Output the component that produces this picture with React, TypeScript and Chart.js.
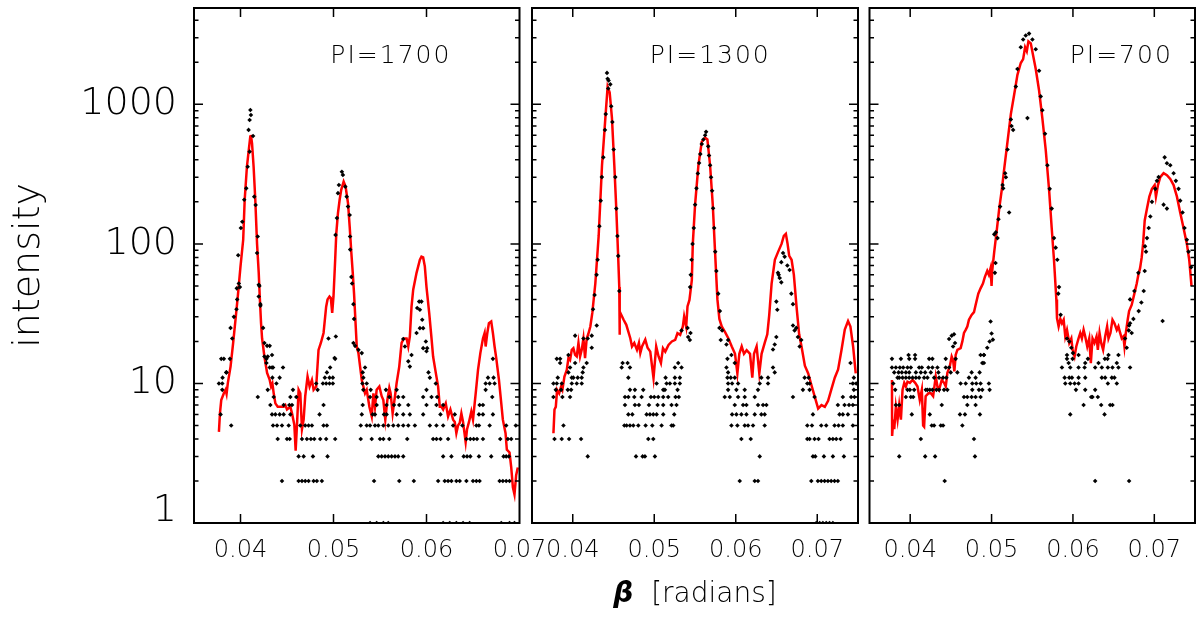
import React, { useEffect, useRef } from 'react';
import { Chart, registerables } from 'chart.js';

Chart.register(...registerables);

type Pt = [number, number];
type Row = [number, number[]];

const FONT = '"DejaVu Sans", "Noto Sans", sans-serif';
const LIGHT = 200;

// axes
const xMin = 0.035;
const yMin = 1;
const yMax = 4900;
const xTickValues = [0.04, 0.05, 0.06, 0.07];
const yTickValues = [1, 10, 100, 1000];
const panelLabels = ['PI=1700', 'PI=1300', 'PI=700'];

// ---- PI=1700 ----
const redLine1: Pt[] = [
  [0.03768, 4.5], [0.03779, 6.1], [0.03793, 7.6], [0.03821, 8.5], [0.03839, 9.0], [0.0385, 8.4], [0.03864, 10.1],
  [0.03893, 13.2], [0.03921, 19.5], [0.03946, 28.6], [0.03971, 42], [0.04, 69], [0.04029, 107], [0.04045, 207],
  [0.04069, 357], [0.04087, 458], [0.04105, 586], [0.04112, 603], [0.04124, 526], [0.04141, 357], [0.04159, 207],
  [0.04178, 100], [0.04196, 62], [0.04207, 42], [0.04221, 27], [0.04232, 21], [0.04257, 15.6], [0.04286, 11.9],
  [0.04314, 10.6], [0.04329, 9.5], [0.04343, 10], [0.04357, 8.5], [0.04375, 7.2], [0.044, 6.8], [0.04429, 6.8],
  [0.04464, 6.8], [0.04482, 7], [0.045, 6.5], [0.04536, 6.8], [0.04554, 6.1], [0.04579, 5.05], [0.04593, 3.3],
  [0.04607, 5], [0.04625, 9], [0.04643, 8.5], [0.04661, 4.7], [0.04679, 5.5], [0.04696, 8.1], [0.04721, 11.2],
  [0.04743, 9.5], [0.04768, 10.6], [0.04786, 9], [0.04814, 9.5], [0.04839, 17.4], [0.04864, 19.5], [0.04893, 23],
  [0.04921, 35.5], [0.04936, 40], [0.04957, 42], [0.04971, 41], [0.04986, 32], [0.05, 42], [0.05018, 77],
  [0.0503, 119], [0.05048, 166], [0.05066, 207], [0.05083, 244], [0.05109, 279], [0.0513, 257], [0.05156, 196],
  [0.05174, 133], [0.05192, 86], [0.05207, 62], [0.05221, 44], [0.05239, 25.6], [0.0525, 18.4], [0.05268, 16.5],
  [0.05286, 13.2], [0.05304, 10.6], [0.05321, 9.5], [0.05339, 8.5], [0.05357, 9], [0.05386, 6.8], [0.05411, 5.8],
  [0.05429, 8.5], [0.05446, 6.8], [0.05464, 9], [0.05493, 9.5], [0.05518, 8.1], [0.05536, 7.6], [0.05557, 5.5],
  [0.05579, 7.6], [0.056, 9.3], [0.05614, 8.5], [0.05636, 6.1], [0.05661, 8.1], [0.05679, 10.1], [0.05707, 13.2],
  [0.05732, 19.5], [0.05757, 21], [0.05786, 21], [0.05804, 18.4], [0.05821, 21.7], [0.05839, 35.5], [0.05857, 47],
  [0.05893, 62], [0.05929, 77], [0.05946, 81], [0.05964, 80], [0.05982, 69], [0.06, 49], [0.06029, 32],
  [0.06054, 21], [0.06071, 15.6], [0.061, 11.9], [0.06125, 9.5], [0.06143, 6.8], [0.06161, 6.8], [0.06179, 6.5],
  [0.06207, 7.2], [0.06232, 5.8], [0.06257, 6.5], [0.06286, 5.5], [0.06304, 5.3], [0.06321, 4.4], [0.06339, 5],
  [0.06357, 5.2], [0.06375, 6.1], [0.06393, 5.3], [0.06421, 3.8], [0.06436, 4.7], [0.06457, 5.3], [0.06482, 6.3],
  [0.065, 5.5], [0.06529, 8.5], [0.06554, 12.5], [0.06579, 16.5], [0.06607, 21], [0.06625, 23], [0.06636, 18.4],
  [0.06654, 23], [0.06671, 27], [0.06696, 27.8], [0.06714, 23], [0.06732, 18.4], [0.0675, 15.2], [0.06779, 10.6],
  [0.06804, 7.2], [0.06821, 5.5], [0.0685, 4.4], [0.06864, 3.35], [0.06893, 3.2], [0.06911, 2.5], [0.06929, 1.8],
  [0.06946, 1.6], [0.06964, 2.2], [0.06982, 2.5],
];

const peakDots1: Pt[] = [
  [0.04106, 910], [0.04112, 838], [0.04098, 772], [0.04087, 656], [0.04135, 593], [0.04098, 458], [0.04077, 357],
  [0.04062, 250], [0.04148, 218], [0.0404, 207], [0.04163, 190], [0.04019, 144], [0.04004, 130], [0.04185, 113],
  [0.04178, 86], [0.03975, 83], [0.03982, 52], [0.04203, 50], [0.0396, 48], [0.04214, 37], [0.03993, 49],
  [0.03964, 40], [0.03957, 34], [0.03929, 30], [0.03893, 25], [0.03911, 21], [0.0385, 12], [0.04196, 51],
  [0.04196, 42], [0.04214, 36], [0.04243, 25], [0.04257, 19.5], [0.04286, 18.6], [0.04314, 18.6], [0.04257, 15.6],
  [0.04293, 15.6], [0.04339, 16], [0.04279, 14], [0.04314, 13], [0.0435, 13],
  [0.0509, 329], [0.05101, 312], [0.05058, 264], [0.05127, 257], [0.05048, 231], [0.05142, 218], [0.05156, 185],
  [0.05037, 153], [0.05174, 161], [0.05022, 116], [0.05178, 113], [0.05192, 58], [0.052, 52], [0.05179, 91],
  [0.05214, 37], [0.05221, 29], [0.05214, 19.5], [0.05232, 18.6], [0.05268, 17.4], [0.05304, 16.5],
  [0.04946, 21], [0.05025, 21.7], [0.05011, 15.2],
  [0.05921, 38.6], [0.05946, 38.6], [0.059, 34.7], [0.05929, 33.7], [0.05954, 28.6], [0.05929, 24.9],
  [0.05964, 24.9], [0.05893, 23], [0.05993, 20], [0.05964, 17.9], [0.06007, 17.9], [0.06, 17], [0.05839, 16],
  [0.05804, 14.4], [0.05821, 13.2], [0.0575, 20.8], [0.05768, 18.4], [0.06021, 12],
];

// integer-count rows: [count, beta positions]
const countRows1: Row[] = [
  [1, [0.05393, 0.05464, 0.05536, 0.05589, 0.06179, 0.0625, 0.06321, 0.06393, 0.06464, 0.06804, 0.06893, 0.06946]],
  [2, [0.04446, 0.04625, 0.04661, 0.04696, 0.04732, 0.04786, 0.04821, 0.04875, 0.05436, 0.05707, 0.05864, 0.06125,
    0.06196, 0.06232, 0.06268, 0.06321, 0.06357, 0.06429, 0.065, 0.06536, 0.06571, 0.06786, 0.06821, 0.06857, 0.06893]],
  [3, [0.04625, 0.04679, 0.04779, 0.04936, 0.05482, 0.05518, 0.05554, 0.05589, 0.05625, 0.05661, 0.05696, 0.0575,
    0.06179, 0.06268, 0.064, 0.06436, 0.06471, 0.06564, 0.06696, 0.06829, 0.06857, 0.06886]],
  [4, [0.044, 0.045, 0.04529, 0.04661, 0.04714, 0.04757, 0.04793, 0.04857, 0.04921, 0.05018, 0.05293, 0.05411, 0.055,
    0.05536, 0.056, 0.05793, 0.06071, 0.06107, 0.0615, 0.06232, 0.06429, 0.06471, 0.06507, 0.06543, 0.06607, 0.06793,
    0.06875, 0.06911]],
  [5, [0.039, 0.0435, 0.04393, 0.04446, 0.04518, 0.04643, 0.04696, 0.04732, 0.04768, 0.04893, 0.04929, 0.05293,
    0.05357, 0.05393, 0.05446, 0.05482, 0.05536, 0.05589, 0.05643, 0.05696, 0.0575, 0.05804, 0.05875, 0.06036,
    0.06107, 0.06179, 0.06286, 0.06386, 0.06536, 0.06564, 0.06679, 0.06857, 0.0696]],
  [6, [0.03786, 0.04339, 0.04375, 0.04421, 0.04464, 0.04536, 0.0485, 0.05304, 0.05421, 0.05446, 0.05543, 0.05571,
    0.05679, 0.0575, 0.05821, 0.05964, 0.0615, 0.06304, 0.06564, 0.06607, 0.06714]],
  [7, [0.04321, 0.04464, 0.04525, 0.04554, 0.04893, 0.05314, 0.05464, 0.05571, 0.0565, 0.05707, 0.05804, 0.06,
    0.06107, 0.06179, 0.06571, 0.06607]],
  [8, [0.04186, 0.04357, 0.04536, 0.046, 0.05393, 0.05464, 0.056, 0.05696, 0.0575, 0.05964, 0.06054, 0.06114, 0.06707]],
  [9, [0.03804, 0.04293, 0.04564, 0.04829, 0.05321, 0.054, 0.05564, 0.05679, 0.06, 0.06636]],
  [10, [0.03768, 0.03804, 0.04386, 0.04814, 0.04886, 0.04921, 0.04957, 0.04993, 0.05311, 0.05357, 0.061, 0.06636,
    0.06679, 0.06732]],
  [11, [0.03807, 0.04343, 0.04421, 0.04907, 0.04957, 0.04993, 0.05321, 0.06036, 0.06661, 0.06721]],
  [12, [0.03846, 0.04929, 0.05314]],
  [13, [0.04339, 0.04457, 0.04964, 0.05339]],
  [15, [0.03793, 0.03821, 0.03886, 0.04279, 0.05018, 0.06714]],
];

// ---- PI=1300 ----
const redLine2: Pt[] = [
  [0.03763, 4.4], [0.03776, 6.5], [0.03792, 6.8], [0.03808, 9], [0.03833, 8.5], [0.03857, 9.5], [0.03873, 9],
  [0.03898, 11.2], [0.03927, 12.5], [0.03947, 15.2], [0.03967, 14.7], [0.03988, 17.4], [0.04008, 17.9], [0.04029, 16],
  [0.04049, 15.6], [0.0407, 19.5], [0.0409, 15.6], [0.0411, 17.4], [0.04131, 21], [0.04151, 15.2], [0.04171, 21],
  [0.0419, 22.5], [0.04216, 25.6], [0.0424, 32], [0.04277, 52], [0.04318, 114], [0.04359, 366], [0.044, 797],
  [0.04428, 1340], [0.04453, 1216], [0.04481, 797], [0.0451, 366], [0.04534, 179], [0.04555, 88], [0.04571, 49],
  [0.04575, 22.3], [0.04577, 32.8], [0.04624, 28.6], [0.04657, 26.3], [0.04706, 21.1], [0.04727, 18.4],
  [0.04755, 19.5], [0.04788, 17.4], [0.04812, 19.5], [0.04829, 16.5], [0.0485, 18.4], [0.0489, 20.6],
  [0.04918, 18], [0.04951, 16.9], [0.04991, 10.9], [0.05024, 18.4], [0.05053, 15.6], [0.05082, 14],
  [0.05107, 17.9], [0.05135, 16.9], [0.05175, 18.9], [0.05216, 20], [0.05257, 20.5], [0.05285, 22.9],
  [0.05318, 22.3], [0.05351, 25.6], [0.05367, 30.2], [0.05392, 25.6], [0.05408, 35.6], [0.05432, 39.7],
  [0.05461, 55], [0.05473, 100],
  [0.05501, 191], [0.05542, 366], [0.05583, 540], [0.05624, 576], [0.05652, 560], [0.05685, 366], [0.05718, 191],
  [0.05746, 88], [0.05775, 40], [0.05799, 29], [0.05828, 25.6], [0.05869, 23.3], [0.0591, 21], [0.05951, 18.4],
  [0.05991, 16.3], [0.0602, 11.8], [0.06044, 16.3], [0.06073, 18.4], [0.06101, 16.3], [0.06134, 17.3],
  [0.06175, 16.3], [0.06203, 11], [0.06224, 16.3], [0.06256, 18.4], [0.06289, 11.8], [0.06317, 16.3],
  [0.06358, 19.8], [0.06387, 22.5], [0.06411, 31], [0.0644, 52], [0.0648, 77], [0.06521, 88], [0.06562, 100],
  [0.0659, 114], [0.06615, 118], [0.06636, 100], [0.06656, 82], [0.06685, 77], [0.06713, 60], [0.06746, 35.4],
  [0.06778, 22.5], [0.06807, 18.4], [0.06848, 13.4], [0.06889, 11.8], [0.06929, 9.7], [0.0697, 8], [0.07011, 6.6],
  [0.07052, 7], [0.07093, 6.8], [0.07133, 7.5], [0.07174, 9.1], [0.07215, 11], [0.07256, 12.6], [0.07297, 17.3],
  [0.07338, 24.3], [0.07378, 28], [0.07407, 25.6], [0.0744, 18.4], [0.07472, 11.8],
];

const peakDots2: Pt[] = [
  [0.0442, 1680], [0.04428, 1525], [0.0444, 1480], [0.04435, 1298], [0.04461, 1390],
  [0.04405, 851], [0.04395, 656], [0.04375, 417], [0.04357, 301], [0.04343, 204], [0.04327, 134], [0.04305, 77],
  [0.04292, 60], [0.04268, 43], [0.04249, 34],
  [0.04472, 968], [0.04486, 747], [0.04502, 475], [0.04522, 301], [0.04534, 179], [0.04548, 114], [0.04558, 82],
  [0.04571, 46],
  [0.05636, 635], [0.05624, 600], [0.05603, 560], [0.05583, 520], [0.05565, 440], [0.0555, 380], [0.05535, 320],
  [0.05518, 250], [0.05501, 191], [0.05485, 130], [0.0547, 100], [0.05458, 77], [0.05448, 60], [0.0544, 49],
  [0.05662, 500], [0.05672, 430], [0.05685, 366], [0.05697, 300], [0.0571, 240], [0.05722, 180], [0.05735, 130],
  [0.05748, 88], [0.05762, 64], [0.05785, 44], [0.05805, 33],
  [0.06498, 38.6], [0.0651, 33.7], [0.06518, 62], [0.06539, 57], [0.06559, 53], [0.0658, 86], [0.066, 81],
  [0.06633, 70], [0.06661, 65], [0.06682, 44], [0.06702, 37], [0.06559, 74], [0.06527, 60],
  [0.04029, 22], [0.04131, 21], [0.04184, 21], [0.04233, 18], [0.04233, 22], [0.04294, 26], [0.05335, 24],
  [0.05408, 25], [0.05437, 20.5], [0.05445, 23], [0.05416, 21.5], [0.058, 25], [0.05833, 24], [0.05816, 20.5],
  [0.05886, 19], [0.05906, 20.5], [0.06478, 19], [0.06498, 21.5], [0.06457, 17.5], [0.06702, 26], [0.06722, 24],
  [0.06743, 25], [0.06763, 21.5], [0.06804, 20.5], [0.06784, 18.4],
];

const countRows2: Row[] = [
  [1, [0.06988, 0.0703, 0.07069, 0.0711, 0.07151, 0.07192]],
  [2, [0.06049, 0.06233, 0.06273, 0.06927, 0.07008, 0.07049, 0.0709, 0.07131, 0.07171, 0.07212, 0.07253]],
  [3, [0.04184, 0.04776, 0.04857, 0.04886, 0.05008, 0.06294, 0.06947, 0.06976, 0.07082, 0.07192, 0.07327]],
  [4, [0.03776, 0.03865, 0.03955, 0.04102, 0.04927, 0.04988, 0.06069, 0.06184, 0.06878, 0.06906, 0.06967, 0.07016,
    0.07151, 0.07192, 0.07233, 0.07286]],
  [5, [0.03886, 0.04633, 0.04661, 0.04702, 0.04743, 0.04804, 0.04894, 0.04976, 0.0509, 0.05212, 0.05233, 0.05947,
    0.0602, 0.0611, 0.06151, 0.06212, 0.06355, 0.06878, 0.06935, 0.07049, 0.0711, 0.07212, 0.07261, 0.07314, 0.07437]],
  [6, [0.04682, 0.04731, 0.04906, 0.04947, 0.04988, 0.05029, 0.0511, 0.05245, 0.05955, 0.06008, 0.06069, 0.06131,
    0.06233, 0.06314, 0.06355, 0.06947, 0.07273, 0.07314, 0.07376]],
  [7, [0.04641, 0.04763, 0.04812, 0.04935, 0.05041, 0.0511, 0.05212, 0.05273, 0.05988, 0.0609, 0.06131, 0.06273,
    0.06335, 0.06376, 0.07253, 0.07335, 0.0739, 0.07437]],
  [8, [0.03763, 0.03873, 0.03967, 0.04641, 0.04682, 0.04755, 0.04845, 0.04959, 0.05, 0.05049, 0.0511, 0.05171,
    0.05261, 0.05302, 0.05865, 0.05927, 0.06029, 0.0611, 0.06233, 0.06702, 0.06967, 0.07314, 0.07416, 0.07457]],
  [9, [0.03792, 0.03857, 0.03939, 0.0398, 0.04702, 0.04763, 0.04865, 0.0511, 0.05131, 0.05286, 0.05906, 0.06008,
    0.0611, 0.06273, 0.06824, 0.06906, 0.07449]],
  [10, [0.03763, 0.03804, 0.03865, 0.03988, 0.04049, 0.0411, 0.05029, 0.05151, 0.05192, 0.05253, 0.05314, 0.05906,
    0.05955, 0.06029, 0.06294, 0.06396, 0.06878, 0.06906, 0.07437, 0.07478]],
  [11, [0.03816, 0.03988, 0.04008, 0.04061, 0.0411, 0.04682, 0.05139, 0.05253, 0.05314, 0.05898, 0.05939, 0.05988,
    0.06314, 0.06396, 0.06845, 0.06894, 0.07449]],
  [12, [0.03947, 0.04122, 0.05906, 0.06478]],
  [13, [0.03967, 0.04131, 0.046, 0.04702, 0.05253, 0.05335, 0.05886, 0.06457]],
  [14, [0.03845, 0.04029, 0.04171, 0.04612, 0.04673, 0.05294, 0.05988, 0.07408]],
  [15, [0.03804, 0.03845, 0.05898]],
  [16, [0.03947, 0.05947]],
];

// ---- PI=700 ----
const redLine3: Pt[] = [
  [0.03776, 10.6], [0.03778, 4.2], [0.03792, 5.5], [0.03804, 4.7], [0.03824, 6.8], [0.03845, 5.5], [0.03865, 7],
  [0.03886, 5.5], [0.03906, 9], [0.03927, 10.1], [0.03947, 9.5], [0.03967, 10.3], [0.03996, 10.1], [0.04029, 10.6],
  [0.04061, 10.1], [0.0409, 9.5], [0.04118, 7.6], [0.04143, 9], [0.04159, 5], [0.04171, 4.9], [0.0419, 8.1],
  [0.04224, 8.5], [0.04253, 8.5], [0.04282, 8.1], [0.04314, 11.2], [0.04335, 9.5], [0.04355, 9], [0.04388, 10.6],
  [0.04416, 10.1], [0.04437, 9.5], [0.04457, 11.9], [0.04486, 13.2], [0.0451, 15.6], [0.04527, 14.7],
  [0.04543, 12.2], [0.04559, 16], [0.0458, 17.4], [0.0462, 17.9], [0.04641, 20], [0.04661, 23], [0.04682, 24.2],
  [0.04702, 25.6], [0.04722, 28.6], [0.04755, 31], [0.04784, 32.4], [0.04804, 36.5], [0.04837, 44], [0.04865, 48],
  [0.04894, 52], [0.04918, 58], [0.04947, 64], [0.04967, 60], [0.04988, 67], [0.05, 50], [0.05008, 64],
  [0.05033, 88], [0.05061, 121], [0.05094, 179], [0.05127, 248], [0.05155, 343], [0.05196, 540], [0.05237, 851],
  [0.05278, 1175], [0.05318, 1626], [0.05359, 1977], [0.05388, 2109], [0.05412, 2564], [0.05433, 2400],
  [0.05453, 2825], [0.05482, 2735], [0.0551, 2250], [0.05543, 1790], [0.05584, 1256], [0.05624, 797],
  [0.05665, 475], [0.05706, 248], [0.05739, 130], [0.05767, 77], [0.05796, 40], [0.05804, 29.4], [0.05824, 25.6],
  [0.05845, 29], [0.05865, 27], [0.05886, 28.6], [0.05906, 21.7], [0.05927, 24.2], [0.05955, 19.5], [0.0598, 21],
  [0.05996, 17.4], [0.0602, 15.6], [0.06041, 18.4], [0.06069, 21], [0.0609, 23], [0.0611, 21], [0.06131, 24.2],
  [0.06151, 21.7], [0.06176, 18.4], [0.062, 21], [0.0622, 14], [0.06241, 21], [0.06265, 19.5], [0.0629, 21.7],
  [0.06306, 17.4], [0.06327, 23], [0.06347, 19.5], [0.06371, 17.4], [0.06396, 21.7], [0.0642, 25.6], [0.06437, 21],
  [0.06461, 23], [0.06486, 28.6], [0.0651, 27], [0.06539, 24.2], [0.06559, 25.6], [0.0658, 23], [0.066, 21],
  [0.0662, 21.7], [0.06633, 18.4], [0.0665, 23], [0.06673, 28.6], [0.0669, 33], [0.06722, 36.5], [0.06755, 44],
  [0.06784, 52], [0.06804, 60], [0.06825, 67], [0.06845, 80], [0.06862, 100], [0.06882, 147], [0.0691, 179],
  [0.06939, 218], [0.06971, 248], [0.07004, 264], [0.0702, 218], [0.07045, 264], [0.07073, 301], [0.07114, 321],
  [0.07155, 311], [0.07196, 292], [0.07237, 264], [0.07278, 218], [0.07318, 168], [0.07359, 130], [0.074, 100],
  [0.07429, 77], [0.07457, 50],
];

const peakDots3: Pt[] = [
  [0.05033, 117], [0.05053, 121], [0.05073, 110], [0.05085, 150], [0.05105, 185], [0.05135, 264], [0.05143, 250],
  [0.05167, 321], [0.05196, 475], [0.05176, 300], [0.05216, 168], [0.05237, 780], [0.05245, 700], [0.05265, 656],
  [0.05298, 1340], [0.05318, 1790], [0.05359, 2564], [0.05388, 2916], [0.0542, 3112], [0.05461, 3213],
  [0.05441, 797], [0.05502, 2916], [0.05543, 2480], [0.05584, 1738], [0.05604, 1140], [0.05624, 907],
  [0.05657, 615], [0.05686, 366], [0.05714, 248], [0.05739, 179], [0.05767, 110], [0.05788, 94], [0.05808, 77],
  [0.05829, 49], [0.0582, 44], [0.05849, 31],
  [0.07127, 417], [0.07155, 378], [0.07196, 366], [0.07237, 321], [0.07265, 283], [0.07298, 248], [0.07318, 204],
  [0.07347, 168], [0.07371, 130], [0.074, 107], [0.0742, 88], [0.07453, 68], [0.07053, 301], [0.07033, 283],
  [0.07012, 248], [0.07114, 191], [0.07155, 179], [0.06971, 200], [0.06951, 157], [0.06931, 130], [0.0691, 110],
  [0.06898, 88], [0.06882, 64], [0.0687, 46], [0.06841, 38], [0.06808, 33], [0.07102, 28], [0.06686, 24],
  [0.04478, 20.8], [0.0451, 22], [0.04539, 22.5], [0.04527, 18.4], [0.04551, 19.5], [0.04988, 27.8], [0.05, 22.8],
  [0.05016, 20.6], [0.04976, 20], [0.04947, 18], [0.04906, 16], [0.05041, 62], [0.05049, 73],
  [0.05927, 21], [0.05955, 20], [0.0598, 18], [0.06, 16.5], [0.06641, 21], [0.06661, 18], [0.0669, 26],
  [0.06702, 27], [0.06722, 23], [0.06743, 29], [0.06702, 40], [0.06755, 46], [0.06804, 62], [0.06886, 96],
];

const countRows3: Row[] = [
  [2, [0.04424, 0.06273, 0.0669]],
  [3, [0.03865, 0.04184, 0.04306, 0.04796]],
  [4, [0.04131, 0.04784]],
  [5, [0.04265, 0.04294, 0.04376, 0.04404, 0.04641]],
  [6, [0.0402, 0.04241, 0.04612, 0.04673, 0.04857, 0.05967, 0.06388]],
  [7, [0.03824, 0.03865, 0.04388, 0.04702, 0.04804, 0.06131, 0.06347, 0.06457, 0.06486]],
  [8, [0.03947, 0.04008, 0.04037, 0.04661, 0.04702, 0.04755, 0.04804, 0.04865, 0.06224, 0.0624, 0.06306]],
  [9, [0.03816, 0.03967, 0.03996, 0.04049, 0.04192, 0.04212, 0.04241, 0.04273, 0.04322, 0.04355, 0.04416, 0.04457,
    0.04763, 0.04845, 0.04886, 0.04976, 0.06037, 0.06151, 0.06273]],
  [10, [0.03792, 0.0462, 0.04682, 0.04763, 0.04812, 0.04865, 0.04967, 0.05906, 0.05967, 0.0602, 0.06069, 0.06429,
    0.06539]],
  [11, [0.03845, 0.03865, 0.03906, 0.03947, 0.03988, 0.04029, 0.0407, 0.0411, 0.04171, 0.04212, 0.04294, 0.04355,
    0.04404, 0.04445, 0.04722, 0.04804, 0.05898, 0.05955, 0.05988, 0.06069, 0.06151, 0.06355, 0.06396, 0.06478, 0.0651]],
  [12, [0.03804, 0.03857, 0.03898, 0.03947, 0.03988, 0.0407, 0.04131, 0.04184, 0.04253, 0.04347, 0.04498, 0.0458,
    0.04755, 0.04853]],
  [13, [0.03776, 0.03824, 0.03873, 0.03914, 0.03967, 0.04008, 0.0411, 0.04143, 0.04224, 0.04273, 0.04335, 0.04437,
    0.04478, 0.05865, 0.05967, 0.06069, 0.06143, 0.06273, 0.06355, 0.06429, 0.06486, 0.06559, 0.06702]],
  [14, [0.04886, 0.04906, 0.05947, 0.06151, 0.06314, 0.06539]],
  [15, [0.03776, 0.03886, 0.03988, 0.0406, 0.04233, 0.04273, 0.04437, 0.04559, 0.05927, 0.05996, 0.06184, 0.06392,
    0.06425]],
  [16, [0.0398, 0.0406, 0.04865, 0.04906, 0.05927, 0.06069, 0.06437, 0.06559]],
];

type PanelCfg = {
  label: string;
  labelAt: number;   // beta where the PI label is centred
  xMax: number;
  line: Pt[];
  peaks: Pt[];
  rows: Row[];
  left: number;      // chart area, px
  right: number;
  yAxis: boolean;
  xTitle: boolean;
};

const panels: PanelCfg[] = [
  { label: panelLabels[0], labelAt: 0.05617, xMax: 0.07, line: redLine1, peaks: peakDots1, rows: countRows1,
    left: 194, right: 519.5, yAxis: true, xTitle: false },
  { label: panelLabels[1], labelAt: 0.05687, xMax: 0.075, line: redLine2, peaks: peakDots2, rows: countRows2,
    left: 532, right: 858, yAxis: false, xTitle: true },
  { label: panelLabels[2], labelAt: 0.06594, xMax: 0.075, line: redLine3, peaks: peakDots3, rows: countRows3,
    left: 869.5, right: 1195, yAxis: false, xTitle: false },
];

const AREA_TOP = 8;
const AREA_BOTTOM = 523;

// frame, inward ticks and the in-panel text
const decor = {
  id: 'decor',
  afterDatasetsDraw(chart: any, _args: unknown, opts: any) {
    const { ctx, chartArea: a } = chart;
    const x = chart.scales.x;
    const y = chart.scales.y;
    ctx.save();
    ctx.strokeStyle = '#000';
    ctx.lineWidth = 1.5;
    ctx.beginPath();
    xTickValues.forEach((v) => {
      const px = x.getPixelForValue(v);
      if (px < a.left + 2 || px > a.right - 2) return;
      ctx.moveTo(px, a.bottom);
      ctx.lineTo(px, a.bottom - 9);
      ctx.moveTo(px, a.top);
      ctx.lineTo(px, a.top + 9);
    });
    for (let d = 1; d <= 1000; d *= 10) {
      for (let m = 1; m <= 9; m++) {
        const v = m * d;
        if (v <= yMin || v >= yMax) continue;
        const py = y.getPixelForValue(v);
        const len = m === 1 ? 9 : 4.5;
        ctx.moveTo(a.left, py);
        ctx.lineTo(a.left + len, py);
        ctx.moveTo(a.right, py);
        ctx.lineTo(a.right - len, py);
      }
    }
    ctx.stroke();
    ctx.lineWidth = 2;
    ctx.strokeRect(a.left, a.top, a.right - a.left, a.bottom - a.top);

    ctx.fillStyle = '#000';
    ctx.textBaseline = 'alphabetic';
    ctx.textAlign = 'center';
    ctx.font = `${LIGHT} 25px ${FONT}`;
    ctx.letterSpacing = '2px';
    ctx.fillText(opts.text, x.getPixelForValue(opts.at), 63);
    ctx.letterSpacing = '0px';

    if (opts.xTitle) {
      const betaFont = `italic bold 28px ${FONT}`;
      const restFont = `${LIGHT} 28px ${FONT}`;
      const rest = '  [radians]';
      ctx.font = betaFont;
      const wb = ctx.measureText('β').width;
      ctx.font = restFont;
      const wr = ctx.measureText(rest).width;
      const start = (a.left + a.right) / 2 - (wb + wr) / 2;
      ctx.textAlign = 'left';
      ctx.font = betaFont;
      ctx.fillText('β', start, 602);
      ctx.font = restFont;
      ctx.fillText(rest, start + wb, 602);
    }
    ctx.restore();
  },
};

function Panel({ cfg }: { cfg: PanelCfg }) {
  const canvasRef = useRef<HTMLCanvasElement>(null);

  useEffect(() => {
    if (!canvasRef.current) return;
    const dots = [
      ...cfg.peaks,
      ...cfg.rows.flatMap(([count, betas]) => betas.map((b) => [b, count] as Pt)),
    ].map(([bx, by]) => ({ x: bx, y: by }));

    const chart = new Chart(canvasRef.current, {
      type: 'scatter',
      data: {
        datasets: [
          {
            type: 'scatter',
            data: dots,
            pointStyle: 'rectRot',
            pointRadius: 2.3,
            backgroundColor: '#000',
            borderWidth: 0,
            order: 0,
          },
          {
            type: 'line',
            data: cfg.line.map(([bx, by]) => ({ x: bx, y: by })),
            borderColor: '#ff0000',
            borderWidth: 2.5,
            pointRadius: 0,
            tension: 0,
            showLine: true,
            order: 1,
          },
        ],
      },
      options: {
        responsive: false,
        animation: false,
        events: [],
        layout: {
          padding: { left: cfg.yAxis ? 0 : cfg.left, right: 1200 - cfg.right, top: AREA_TOP, bottom: 0 },
        },
        plugins: {
          legend: { display: false },
          tooltip: { enabled: false },
          decor: { text: cfg.label, at: cfg.labelAt, xTitle: cfg.xTitle },
        } as any,
        scales: {
          x: {
            type: 'linear',
            min: xMin,
            max: cfg.xMax,
            grid: { display: false, drawTicks: false },
            border: { display: false },
            afterBuildTicks: (s: any) => {
              s.ticks = xTickValues.map((v) => ({ value: v }));
            },
            afterFit: (s: any) => {
              s.height = 617 - AREA_BOTTOM;
              s.paddingLeft = 0;
              s.paddingRight = 0;
            },
            ticks: {
              autoSkip: false,
              maxRotation: 0,
              minRotation: 0,
              padding: 13,
              color: '#000',
              font: { family: FONT, size: 24, weight: LIGHT as any },
              callback: (v: any) => Number(v).toFixed(2),
            },
          },
          y: {
            type: 'logarithmic',
            display: cfg.yAxis,
            min: yMin,
            max: yMax,
            grid: { display: false, drawTicks: false },
            border: { display: false },
            // the "1" label sits just above the bottom edge, as in the original
            afterBuildTicks: (s: any) => {
              s.ticks = yTickValues.map((v) => ({ value: v === 1 ? 1.22 : v }));
            },
            afterFit: (s: any) => {
              s.width = cfg.yAxis ? cfg.left : 0;
              s.paddingTop = 0;
              s.paddingBottom = 0;
            },
            ticks: {
              padding: 17,
              color: '#000',
              font: { family: FONT, size: 38, weight: LIGHT as any },
              callback: (v: any) => String(yTickValues.find((t) => Math.abs(Math.log10(t) - Math.log10(v)) < 0.2)),
            },
            title: {
              display: true,
              text: 'intensity',
              color: '#000',
              font: { family: FONT, size: 38, weight: LIGHT as any },
              padding: { top: 6, bottom: 0 },
            },
          },
        },
      },
      plugins: [decor],
    });

    return () => chart.destroy();
  }, [cfg]);

  return (
    <canvas
      ref={canvasRef}
      width={1200}
      height={617}
      style={{ position: 'absolute', left: 0, top: 0, width: 1200, height: 617 }}
    />
  );
}

export default function App() {
  return (
    <div style={{ position: 'absolute', left: 0, top: 0, width: 1200, height: 617, background: '#fff' }}>
      {panels.map((p) => (
        <Panel key={p.label} cfg={p} />
      ))}
    </div>
  );
}
